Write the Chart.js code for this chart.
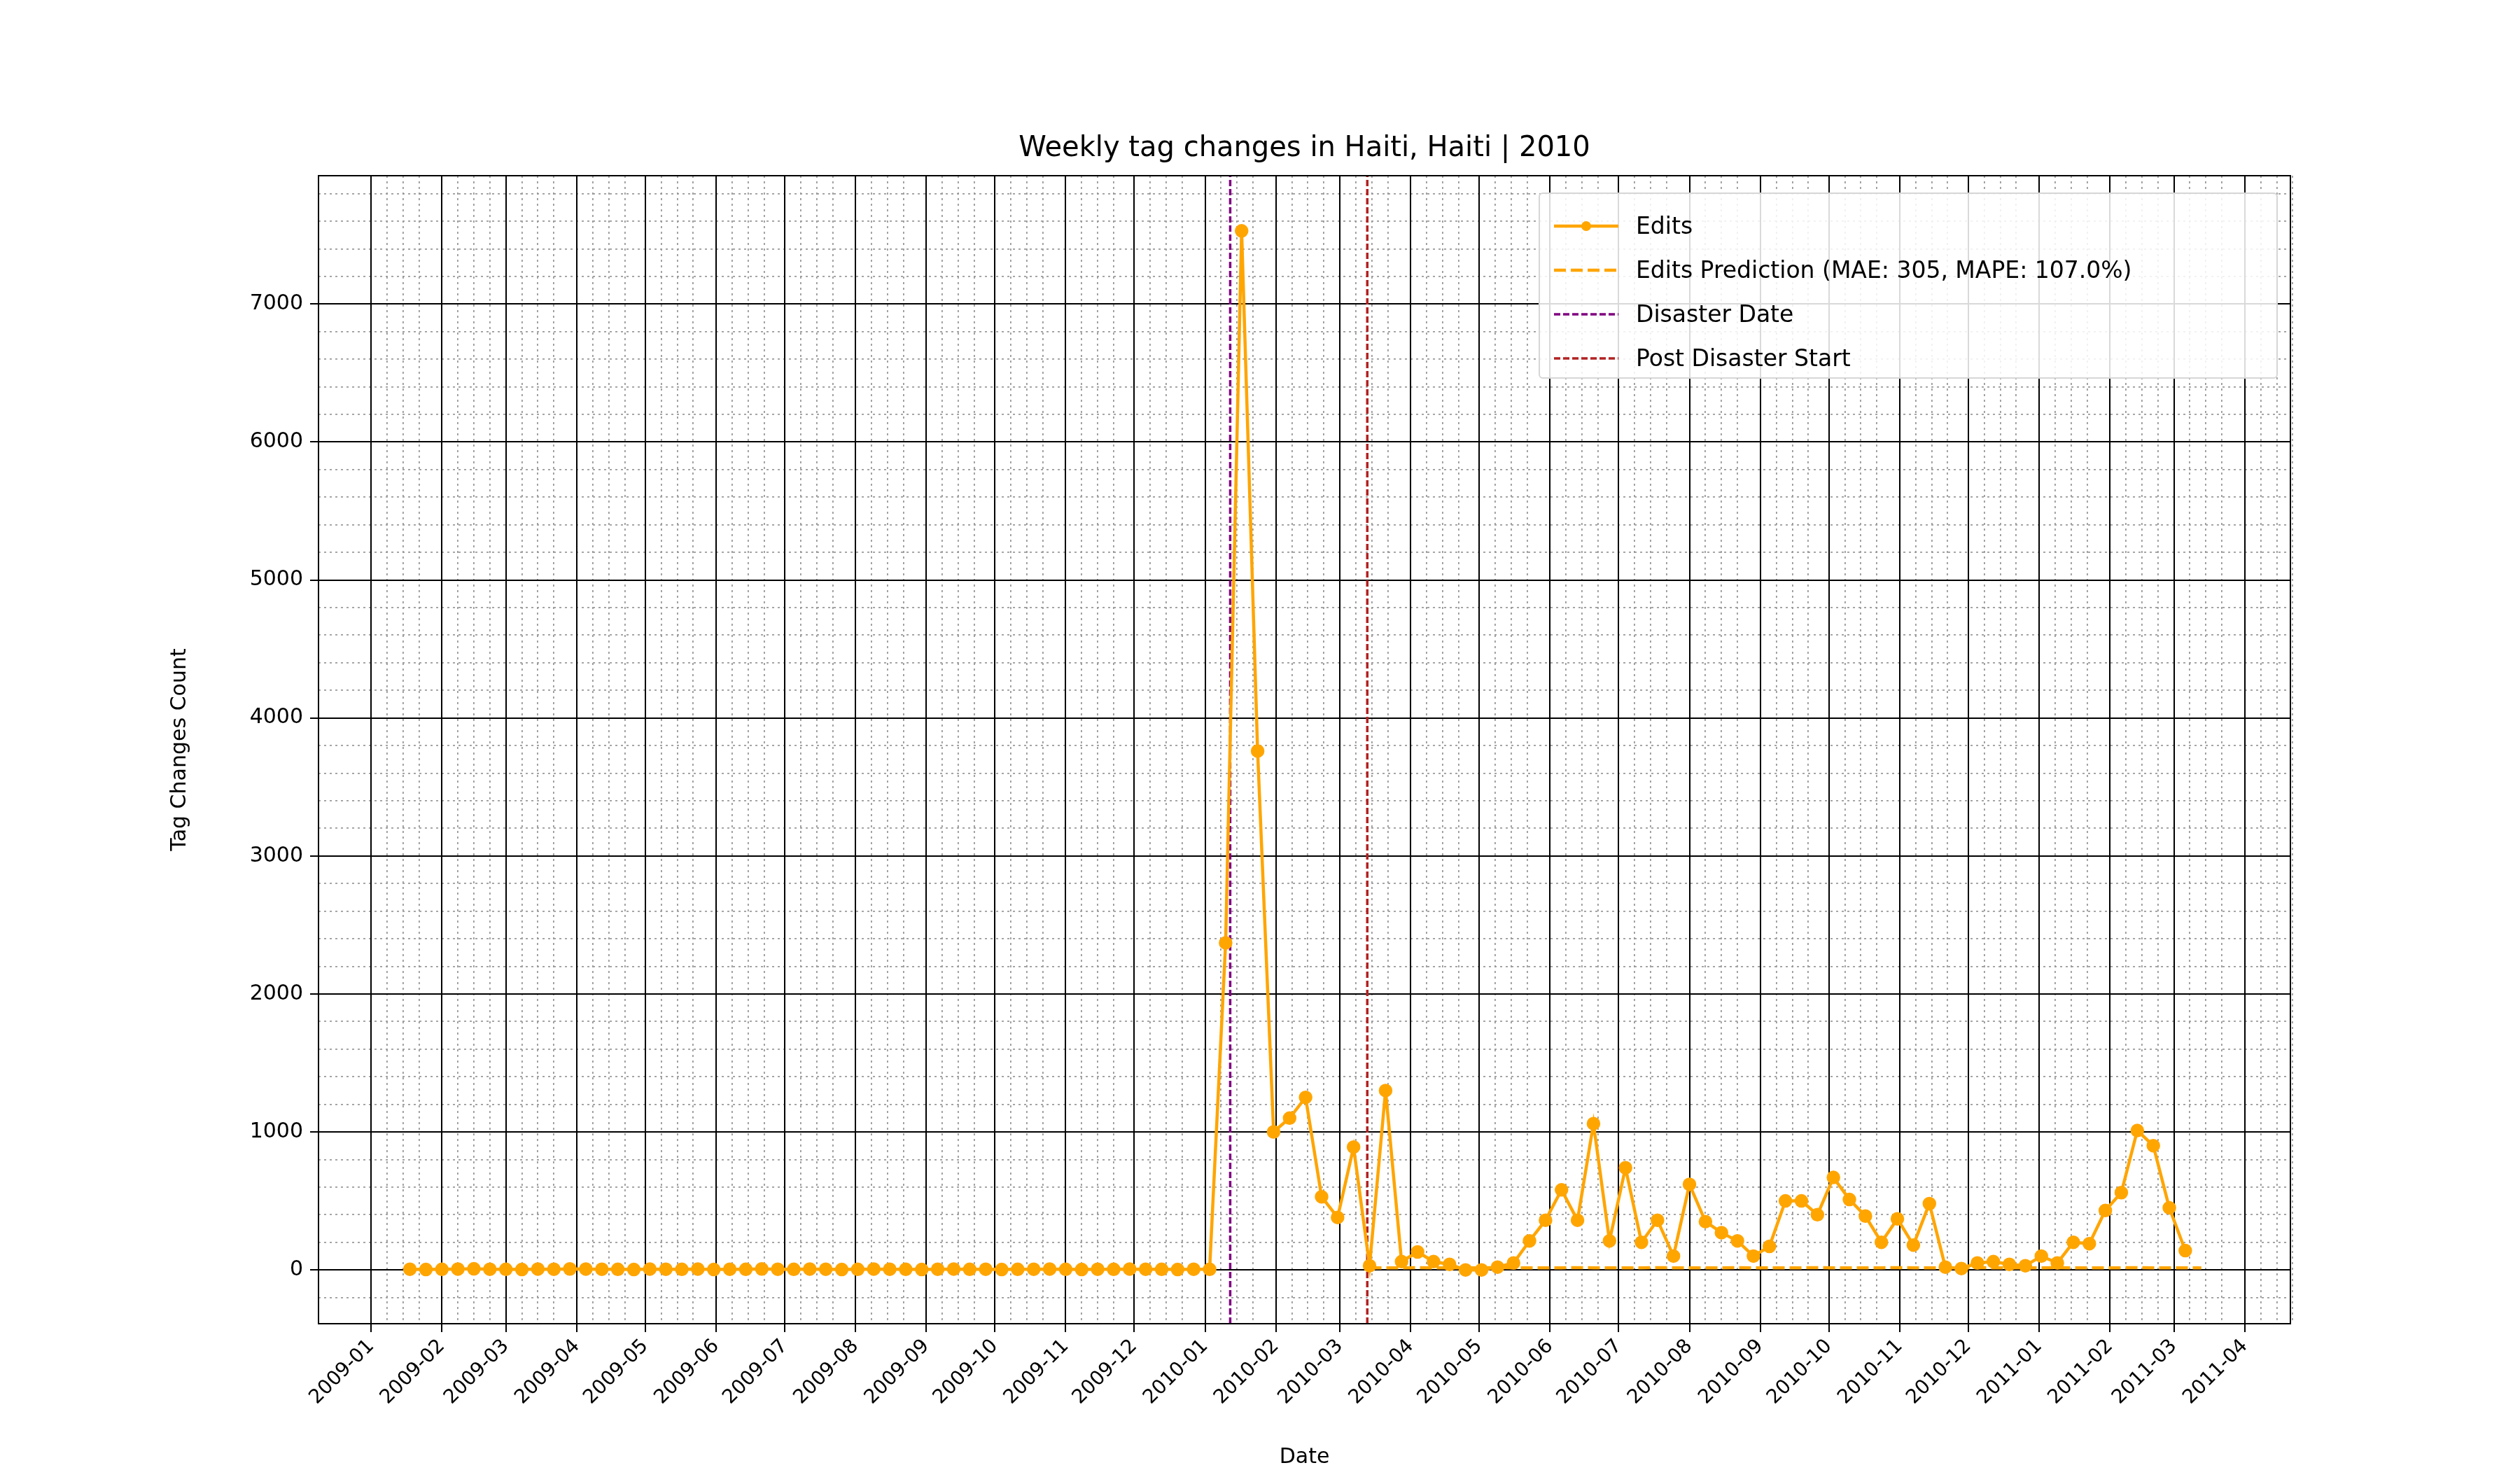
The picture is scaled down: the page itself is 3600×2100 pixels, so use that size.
<!DOCTYPE html>
<html lang="en">
<head>
  <meta charset="UTF-8" />
  <title>Weekly tag changes in Haiti</title>
  <script src="https://cdn.jsdelivr.net/npm/chart.js@4.4.0/dist/chart.umd.min.js"></script>
  <style>
    *{margin:0;padding:0;box-sizing:border-box}
    body{width:3600px;height:2100px;background:#fff;font-family:"DejaVu Sans",sans-serif;overflow:hidden}
    .wrap{position:relative;width:3600px;height:2100px}
    canvas{position:absolute;left:0;top:0}
    .title{position:absolute;left:455px;width:2817px;top:186px;text-align:center;font-size:40px;color:#000}
    .legend{position:absolute;left:2198px;top:275px;width:1056px;height:266px;border:2px solid #d6d6d6;border-radius:6px;background:rgba(255,255,255,0.85);padding:14px 0 0 20px}
    .legend div{display:flex;align-items:center;height:63px;font-size:33px;color:#000}
    .legend svg{width:92px;height:30px;margin-right:25px}
  </style>
</head>
<body>
<div class="wrap">
  <canvas id="c" width="3600" height="2100"></canvas>
  <div class="title">Weekly tag changes in Haiti, Haiti | 2010</div>
  <div class="legend">
    <div><svg><line x1="0" y1="15" x2="92" y2="15" stroke="#ffa500" stroke-width="4.5"/><circle cx="46" cy="15" r="7" fill="#ffa500"/></svg>Edits</div>
    <div><svg><line x1="0" y1="15" x2="92" y2="15" stroke="#ffa500" stroke-width="4.5" stroke-dasharray="17,7"/></svg>Edits Prediction (MAE: 305, MAPE: 107.0%)</div>
    <div><svg><line x1="0" y1="15" x2="92" y2="15" stroke="#800080" stroke-width="3.5" stroke-dasharray="9,4"/></svg>Disaster Date</div>
    <div><svg><line x1="0" y1="15" x2="92" y2="15" stroke="#b22222" stroke-width="3.5" stroke-dasharray="9,4"/></svg>Post Disaster Start</div>
  </div>
</div>
<script>
const DAY = 86400000;
// weekly edits, first week 2009-01-18
const editsStart = '2009-01-18';
const editsValues = [
  5,3,4,6,8,5,4,3,6,5,7,6,5,4,3,6,5,4,6,3,5,4,7,5,4,6,5,3,4,6,5,4,3,5,6,4,5,3,4,5,6,4,3,5,4,6,5,4,3,5,4,
  2370,7530,3760,1000,1100,1250,530,380,890,30,
  1300,60,130,60,40,0,0,20,50,210,
  360,580,360,1060,210,740,200,360,100,620,
  350,270,210,100,170,500,500,400,670,510,
  390,200,370,180,480,20,10,50,60,40,
  30,100,50,200,190,430,560,1010,900,450,140
];
// weekly prediction, first week 2010-03-14
const predStart = '2010-03-14';
const predValues = [
  15,14,15,16,15,14,15,15,16,15,14,15,15,16,15,14,15,15,16,15,14,15,15,16,15,14,15,
  15,16,15,14,15,15,16,15,14,15,15,16,15,14,15,15,16,15,14,15,15,16,15,14,15,15
];
const disasterDate = '2010-01-12';
const postDisasterDate = '2010-03-13';
const monthTicks = [];
for (let y = 2009; y <= 2011; y++) for (let m = 1; m <= 12; m++) {
  if (y === 2011 && m > 4) break;
  monthTicks.push(y + '-' + String(m).padStart(2, '0'));
}
const yMajor = [0,1000,2000,3000,4000,5000,6000,7000];
const xMin = '2008-12-09', xMax = '2011-04-21';
const yMin = -390, yMax = 7930;

const t = s => Date.parse(s + 'T00:00:00Z');
const weekly = (start, vals) => vals.map((v, i) => ({x: t(start) + i * 7 * DAY, y: v}));
const minorX = [];
monthTicks.forEach(m => [8,15,22].forEach(d => minorX.push(t(m + '-' + String(d).padStart(2,'0')))));
const minorY = [];
for (let v = -200; v <= 7800; v += 200) if (v % 1000) minorY.push(v);

const frame = {
  id: 'frame',
  afterDraw(ch) {
    const a = ch.chartArea, c = ch.ctx;
    c.save(); c.strokeStyle = '#000'; c.lineWidth = 2;
    c.strokeRect(a.left, a.top, a.right - a.left, a.bottom - a.top);
    c.restore();
  }
};

const vline = (d, color, label) => ({
  label, data: [{x: t(d), y: yMin}, {x: t(d), y: yMax}], borderColor: color,
  borderWidth: 3.5, borderDash: [9, 4], pointRadius: 0, order: 3
});

new Chart(document.getElementById('c'), {
  type: 'line',
  data: {datasets: [
    {label: 'Edits', data: weekly(editsStart, editsValues), borderColor: '#ffa500', backgroundColor: '#ffa500',
     borderWidth: 4.5, pointRadius: 7.5, pointHoverRadius: 7.5, order: 1},
    {label: 'Edits Prediction', data: weekly(predStart, predValues), borderColor: '#ffa500',
     borderWidth: 4.5, borderDash: [17, 7], pointRadius: 0, order: 2},
    vline(disasterDate, '#800080', 'Disaster Date'),
    vline(postDisasterDate, '#b22222', 'Post Disaster Start')
  ]},
  options: {
    responsive: false, animation: false, devicePixelRatio: 1,
    layout: {padding: {top: 251, right: 328, left: 235, bottom: 0}},
    plugins: {legend: {display: false}, tooltip: {enabled: false}},
    scales: {
      xm: {type: 'linear', position: 'bottom', min: t(xMin), max: t(xMax),
        afterBuildTicks: s => { s.ticks = minorX.map(v => ({value: v})); },
        afterFit: s => { s.height = 0; },
        ticks: {display: false}, border: {display: false, dash: [3, 5]},
        grid: {color: '#999', lineWidth: 1.8, tickLength: 0}},
      ym: {type: 'linear', position: 'left', min: yMin, max: yMax,
        afterBuildTicks: s => { s.ticks = minorY.map(v => ({value: v})); },
        afterFit: s => { s.width = 0; },
        ticks: {display: false}, border: {display: false, dash: [3, 5]},
        grid: {color: '#999', lineWidth: 1.8, tickLength: 0}},
      x: {type: 'linear', position: 'bottom', min: t(xMin), max: t(xMax),
        afterBuildTicks: s => { s.ticks = monthTicks.map(m => ({value: t(m + '-01')})); },
        afterFit: s => { s.height = 209; },
        ticks: {color: '#000', font: {family: 'DejaVu Sans', size: 28}, minRotation: 45, maxRotation: 45, padding: 4,
          callback: v => { const d = new Date(v); return d.getUTCFullYear() + '-' + String(d.getUTCMonth() + 1).padStart(2, '0'); }},
        title: {display: true, text: 'Date', color: '#000', font: {family: 'DejaVu Sans', size: 30}, padding: {top: 0, bottom: 0}},
        border: {display: true, color: '#000', width: 2},
        grid: {color: '#000', lineWidth: 2, tickLength: 12, tickColor: '#000'}},
      y: {type: 'linear', position: 'left', min: yMin, max: yMax,
        afterBuildTicks: s => { s.ticks = yMajor.map(v => ({value: v})); },
        afterFit: s => { s.width = 220; },
        ticks: {color: '#000', font: {family: 'DejaVu Sans', size: 30}, padding: 10, callback: v => String(v)},
        title: {display: true, text: 'Tag Changes Count', color: '#000', font: {family: 'DejaVu Sans', size: 30}, padding: {bottom: 0}},
        border: {display: true, color: '#000', width: 2},
        grid: {color: '#000', lineWidth: 2, tickLength: 12, tickColor: '#000'}}
    }
  },
  plugins: [frame]
});
</script>
</body>
</html>
